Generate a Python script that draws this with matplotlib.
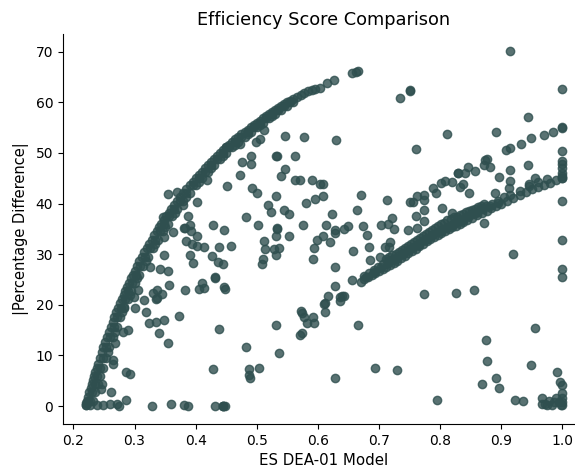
import matplotlib
matplotlib.use("Agg")
import matplotlib.pyplot as plt

# dense arc, top left
upper_x = [0.220, 0.221, 0.222, 0.224, 0.226, 0.228, 0.230, 0.232, 0.234, 0.236, 0.238, 0.240, 0.243, 0.246, 0.249,
           0.252, 0.255, 0.258, 0.261, 0.264, 0.267, 0.270, 0.273, 0.276, 0.279, 0.282, 0.285, 0.288, 0.291, 0.294,
           0.297, 0.300, 0.304, 0.308, 0.312, 0.316, 0.320, 0.324, 0.328, 0.332, 0.336, 0.340, 0.344, 0.348, 0.352,
           0.356, 0.360, 0.365, 0.370, 0.375, 0.380, 0.385, 0.390, 0.395, 0.400, 0.405, 0.410, 0.415, 0.420, 0.425,
           0.430, 0.435, 0.440, 0.445, 0.450, 0.455, 0.460, 0.465, 0.470, 0.475, 0.480, 0.485, 0.490, 0.495, 0.500,
           0.505, 0.510, 0.515, 0.520, 0.525, 0.530, 0.535, 0.540, 0.545, 0.550, 0.555, 0.560, 0.566, 0.572, 0.578,
           0.584, 0.590, 0.596, 0.604, 0.615, 0.626, 0.655, 0.662, 0.665]
upper_y = [0.2, 0.6, 0.9, 1.8, 2.7, 3.5, 4.4, 5.2, 6.0, 6.8, 7.6, 8.3, 9.5, 10.6, 11.6,
           12.7, 13.7, 14.7, 15.7, 16.7, 17.6, 18.5, 19.4, 20.3, 21.1, 22.0, 22.8, 23.6, 24.4, 25.2,
           25.9, 26.7, 27.6, 28.6, 29.5, 30.4, 31.3, 32.1, 32.9, 33.7, 34.5, 35.3, 36.0, 36.8, 37.5,
           38.2, 38.9, 39.7, 40.5, 41.3, 42.1, 42.9, 43.6, 44.3, 45.0, 45.7, 46.3, 47.0, 47.6, 48.2,
           48.8, 49.4, 50.0, 50.6, 51.1, 51.6, 52.2, 52.7, 53.2, 53.7, 54.2, 54.6, 55.1, 55.6, 56.0,
           56.4, 56.9, 57.3, 57.7, 58.1, 58.5, 58.9, 59.3, 59.6, 60.0, 60.3, 60.7, 61.1, 61.5, 61.8,
           62.2, 62.5, 62.7, 62.9, 63.8, 64.4, 65.7, 66.0, 66.1]

# inner edge of the same arc, it is thicker than one row of dots
inner_x = [0.232, 0.236, 0.240, 0.244, 0.248, 0.253, 0.259, 0.265, 0.271, 0.277, 0.283, 0.289, 0.295, 0.301, 0.307,
           0.314, 0.322, 0.330, 0.338, 0.346, 0.354, 0.362, 0.370, 0.380, 0.390, 0.400, 0.410, 0.420, 0.430, 0.440,
           0.450, 0.460, 0.470, 0.480, 0.490, 0.500, 0.510, 0.520, 0.530, 0.540, 0.550, 0.560,
           0.227, 0.231, 0.235, 0.239, 0.243, 0.248, 0.254, 0.260, 0.266, 0.272, 0.278, 0.284, 0.290, 0.296, 0.302,
           0.309, 0.317, 0.325, 0.333, 0.341, 0.349, 0.357, 0.365, 0.375, 0.385, 0.395, 0.405, 0.415, 0.425, 0.435,
           0.445, 0.455, 0.465, 0.475, 0.485, 0.495, 0.505, 0.515, 0.525, 0.535, 0.545, 0.555,
           0.256, 0.268, 0.280, 0.292, 0.304, 0.318, 0.334, 0.350, 0.366, 0.385, 0.405, 0.425, 0.445, 0.465, 0.485,
           0.505, 0.525]
inner_y = [0.9, 2.7, 4.4, 6.0, 7.6, 9.5, 11.6, 13.7, 15.7, 17.6, 19.4, 21.1, 22.8, 24.4, 25.9,
           27.6, 29.5, 31.3, 32.9, 34.5, 36.0, 37.5, 38.9, 40.5, 42.1, 43.6, 45.0, 46.3, 47.6, 48.8,
           50.0, 51.1, 52.2, 53.2, 54.2, 55.1, 56.0, 56.9, 57.7, 58.5, 59.3, 60.0,
           0.9, 2.7, 4.4, 6.0, 7.6, 9.5, 11.6, 13.7, 15.7, 17.6, 19.4, 21.1, 22.8, 24.4, 25.9,
           27.6, 29.5, 31.3, 32.9, 34.5, 36.0, 37.5, 38.9, 40.5, 42.1, 43.6, 45.0, 46.3, 47.6, 48.8,
           50.0, 51.1, 52.2, 53.2, 54.2, 55.1, 56.0, 56.9, 57.7, 58.5, 59.3, 60.0,
           10.6, 14.7, 18.5, 22.0, 25.2, 28.6, 32.1, 35.3, 38.2, 41.3, 44.3, 47.0, 49.4, 51.6, 53.7,
           55.6, 57.3]

# dense band, lower right
band_x = [0.670, 0.676, 0.682, 0.688, 0.694, 0.700, 0.706, 0.712, 0.718, 0.724, 0.730, 0.736, 0.742, 0.748, 0.754,
          0.760, 0.766, 0.772, 0.778, 0.784, 0.790, 0.796, 0.802, 0.808, 0.814, 0.820, 0.826, 0.832, 0.838, 0.844,
          0.852, 0.860, 0.868, 0.876, 0.884, 0.892, 0.900, 0.910, 0.920, 0.930, 0.940, 0.950, 0.960, 0.970, 0.980,
          0.990, 1.000,
          0.675, 0.683, 0.691, 0.699, 0.707, 0.715, 0.723, 0.731, 0.739, 0.747, 0.755, 0.763, 0.771, 0.779, 0.787,
          0.795, 0.803, 0.811, 0.819, 0.827, 0.835, 0.843, 0.851, 0.859, 0.867, 0.875, 0.885, 0.895, 0.905, 0.915,
          0.930, 0.945, 0.960, 0.975,
          0.712, 0.722, 0.732, 0.742, 0.752, 0.762, 0.772, 0.782, 0.792, 0.802, 0.812, 0.822, 0.832, 0.842, 0.852,
          0.862, 0.872,
          0.679, 0.691, 0.703, 0.715, 0.727, 0.739, 0.751, 0.763, 0.775, 0.787, 0.799, 0.811, 0.823, 0.835, 0.847,
          0.858, 0.870, 0.882, 0.894,
          0.717, 0.727, 0.737, 0.747, 0.757, 0.767, 0.777, 0.787, 0.797, 0.807, 0.817, 0.827, 0.837, 0.847, 0.857,
          0.867]
band_y = [24.5, 25.0, 25.4, 25.8, 26.3, 26.7, 27.1, 27.5, 27.9, 28.3, 28.7, 29.2, 29.7, 30.2, 30.7,
          31.1, 31.6, 32.1, 32.6, 33.0, 33.4, 33.8, 34.1, 34.5, 34.9, 35.3, 35.6, 36.0, 36.3, 36.7,
          37.2, 37.7, 38.1, 38.6, 39.1, 39.6, 40.0, 40.6, 41.1, 41.7, 42.2, 42.8, 43.2, 43.7, 44.1,
          44.6, 45.0,
          25.6, 26.2, 26.9, 27.4, 28.0, 28.6, 29.1, 29.7, 30.3, 30.9, 31.5, 32.1, 32.6, 33.2, 33.7,
          34.3, 34.8, 35.3, 35.8, 36.3, 36.8, 37.3, 37.9, 38.4, 38.9, 39.5, 40.0, 40.6, 41.2, 41.7,
          42.5, 43.4, 44.2, 44.8,
          29.0, 29.8, 30.5, 31.3, 32.1, 32.9, 33.6, 34.4, 35.1, 35.9, 36.7, 37.3, 37.8, 38.3, 38.8,
          39.4, 39.9,
          25.5, 26.4, 27.4, 28.2, 29.0, 30.0, 31.0, 31.9, 32.9, 33.8, 34.6, 35.4, 36.1, 36.8, 37.6,
          38.2, 38.9, 39.5, 40.2,
          29.4, 30.0, 30.9, 31.7, 32.5, 33.2, 34.0, 34.7, 35.5, 36.2, 36.9, 37.4, 37.9, 38.5, 39.0,
          39.5]

# the loose points, left half
left_x = [0.355, 0.369, 0.403, 0.387, 0.347, 0.381, 0.391, 0.429, 0.446, 0.452, 0.473, 0.476, 0.491, 0.491, 0.493,
          0.500, 0.518, 0.523, 0.532, 0.483, 0.502, 0.533, 0.544, 0.553, 0.575, 0.580, 0.596, 0.604, 0.590, 0.571,
          0.563, 0.540, 0.547, 0.563, 0.532, 0.533, 0.547, 0.578, 0.498, 0.506, 0.512, 0.450, 0.473, 0.418, 0.380,
          0.363, 0.383, 0.393, 0.402, 0.384, 0.394, 0.402, 0.413, 0.349, 0.438, 0.458, 0.390, 0.395, 0.426, 0.436,
          0.444, 0.348, 0.341, 0.354, 0.325, 0.357, 0.383, 0.410, 0.406, 0.414, 0.431, 0.431, 0.447, 0.448, 0.305,
          0.330, 0.336, 0.345, 0.335, 0.336, 0.316, 0.299, 0.300, 0.319, 0.282, 0.373, 0.348, 0.335, 0.324, 0.340,
          0.290, 0.281, 0.438, 0.354, 0.268, 0.264, 0.264, 0.286, 0.292, 0.429, 0.246, 0.245, 0.262, 0.286, 0.271,
          0.274, 0.260, 0.249, 0.238, 0.227, 0.221, 0.224, 0.329, 0.359, 0.381, 0.387, 0.431, 0.444, 0.444, 0.445,
          0.448, 0.488, 0.488, 0.489, 0.504, 0.483, 0.537, 0.532, 0.570, 0.574, 0.572, 0.574, 0.577, 0.582, 0.592,
          0.594, 0.509, 0.511, 0.514, 0.512, 0.532, 0.533, 0.552, 0.529, 0.536, 0.532, 0.594, 0.592, 0.598]
left_y = [41.8, 42.3, 40.3, 37.6, 37.3, 35.1, 35.7, 35.8, 34.8, 43.5, 45.7, 48.2, 49.3, 47.9, 43.0,
          42.0, 39.7, 38.4, 41.4, 37.4, 35.8, 35.1, 38.8, 37.9, 35.8, 40.1, 41.0, 43.9, 44.6, 44.6,
          44.6, 45.5, 46.8, 49.3, 49.3, 49.3, 53.4, 53.1, 52.1, 52.8, 54.5, 51.2, 51.7, 44.6, 39.7,
          34.3, 35.1, 34.6, 33.6, 32.7, 32.1, 31.7, 31.4, 33.3, 31.4, 31.6, 29.8, 28.2, 29.6, 28.4,
          28.0, 29.9, 27.0, 26.7, 27.5, 24.0, 23.0, 24.4, 23.2, 23.4, 25.4, 25.2, 23.6, 23.2, 23.0,
          22.3, 22.9, 22.1, 21.1, 21.3, 21.0, 21.6, 19.3, 18.6, 19.6, 17.8, 17.0, 16.6, 16.5, 14.5,
          15.1, 14.7, 15.3, 12.4, 12.4, 9.1, 8.4, 6.8, 6.3, 7.4, 4.3, 3.3, 2.8, 1.1, 0.5,
          0.1, 0.5, 0.2, 0.2, 0.2, 0.3, 0.8, 0.0, 0.4, 0.3, 0.0, 0.0, 0.0, 0.1, 0.0,
          0.0, 7.3, 6.1, 5.6, 7.6, 11.7, 10.5, 16.0, 14.0, 14.5, 18.8, 18.3, 17.6, 16.5, 17.6,
          16.5, 28.0, 29.0, 31.0, 32.7, 33.5, 35.0, 33.6, 31.0, 31.2, 29.8, 31.2, 29.1, 32.8]

# the loose points, right half
right_x = [0.915, 1.000, 0.750, 0.751, 0.735, 0.944, 0.811, 0.891, 0.761, 0.630, 1.000, 1.000, 1.000, 1.000, 1.000,
           1.000, 1.000, 0.944, 0.915, 0.915, 0.896, 0.882, 0.871, 0.877, 0.873, 0.857, 0.845, 0.841, 0.829, 0.830,
           0.819, 0.808, 0.801, 0.838, 0.833, 0.789, 0.794, 0.848, 0.889, 0.912, 0.956, 0.946, 1.000, 0.773, 0.762,
           0.751, 0.755, 0.774, 0.773, 0.761, 0.803, 0.819, 0.774, 0.713, 0.671, 0.608, 0.609, 0.623, 0.664, 0.721,
           0.613, 0.650, 0.673, 0.703, 0.714, 0.724, 0.871, 0.628, 0.642, 0.748, 0.762, 0.908, 0.915, 0.932, 0.949,
           0.970, 0.985, 1.000, 1.000, 0.609, 0.620, 0.628, 0.680, 0.684, 0.657, 0.710, 0.718, 0.717, 0.686, 0.702,
           0.628, 0.655, 0.628, 0.617, 0.636, 0.639, 0.643, 0.636, 0.610, 0.611, 0.612, 0.666, 0.628, 0.694, 0.730,
           0.773, 0.826, 0.856, 0.920, 1.000, 1.000, 1.000, 0.955, 0.875, 0.877, 0.948, 0.992, 0.996, 1.000, 1.000,
           0.892, 0.868, 0.897, 0.923, 0.936, 0.795, 0.967, 0.967, 0.975, 0.983, 0.989, 0.994, 1.000, 1.000, 1.000,
           0.986, 0.978, 0.971, 0.997]
right_y = [70.1, 62.6, 62.3, 62.4, 60.9, 57.2, 53.7, 54.1, 50.7, 52.6, 50.4, 48.5, 47.8, 47.0, 46.0,
           45.5, 45.0, 47.6, 46.6, 44.5, 45.3, 47.2, 47.6, 48.9, 48.6, 46.4, 47.2, 46.0, 46.1, 46.0,
           44.3, 44.5, 44.0, 43.9, 43.2, 43.0, 42.0, 42.0, 42.0, 43.0, 45.0, 43.9, 40.5, 41.7, 41.5,
           40.4, 40.4, 40.7, 38.8, 37.6, 39.2, 38.1, 36.6, 40.7, 41.7, 43.9, 41.5, 37.9, 38.8, 37.2,
           35.8, 35.6, 35.6, 35.8, 35.9, 35.0, 36.2, 34.8, 34.9, 34.8, 35.1, 50.5, 51.0, 51.8, 53.0,
           53.6, 54.2, 55.2, 55.0, 33.5, 32.5, 34.1, 33.8, 31.4, 30.7, 31.4, 32.5, 31.5, 28.9, 29.5,
           27.4, 24.9, 23.7, 21.8, 20.7, 21.8, 21.7, 21.6, 20.2, 20.3, 18.6, 16.0, 5.5, 7.6, 7.2,
           22.2, 22.4, 23.0, 30.0, 32.8, 27.0, 25.5, 15.5, 13.0, 8.8, 8.2, 6.8, 4.7, 4.1, 2.5,
           5.5, 4.3, 3.6, 1.2, 1.0, 1.1, 1.6, 0.5, 0.2, 0.2, 1.5, 0.8, 0.2, 0.8, 1.5,
           0.8, 1.0, 0.4, 0.3]

xs = upper_x + inner_x + band_x + left_x + right_x
ys = upper_y + inner_y + band_y + left_y + right_y

x_ticks = [0.2, 0.3, 0.4, 0.5, 0.6, 0.7, 0.8, 0.9, 1.0]
y_ticks = [0, 10, 20, 30, 40, 50, 60, 70]

fig = plt.figure(figsize=(5.75, 4.68), dpi=100)
# the reference is cropped on the right, so the axes run past the figure edge
ax = fig.add_axes([63 / 575, 44 / 468, 522 / 575, 390.5 / 468])
ax.scatter(xs, ys, color="darkslategray", alpha=0.8, s=36)

ax.set_xlim(0.183, 1.037)
ax.set_ylim(-3.55, 73.6)
ax.set_xticks(x_ticks)
ax.set_yticks(y_ticks)
ax.set_title("Efficiency Score Comparison", fontsize=12.8)
ax.set_xlabel("ES DEA-01 Model", fontsize=10.8)
ax.set_ylabel("|Percentage Difference|", fontsize=10.5, labelpad=5)
ax.spines["top"].set_visible(False)
ax.spines["right"].set_visible(False)

plt.savefig("out.png", dpi=100)
